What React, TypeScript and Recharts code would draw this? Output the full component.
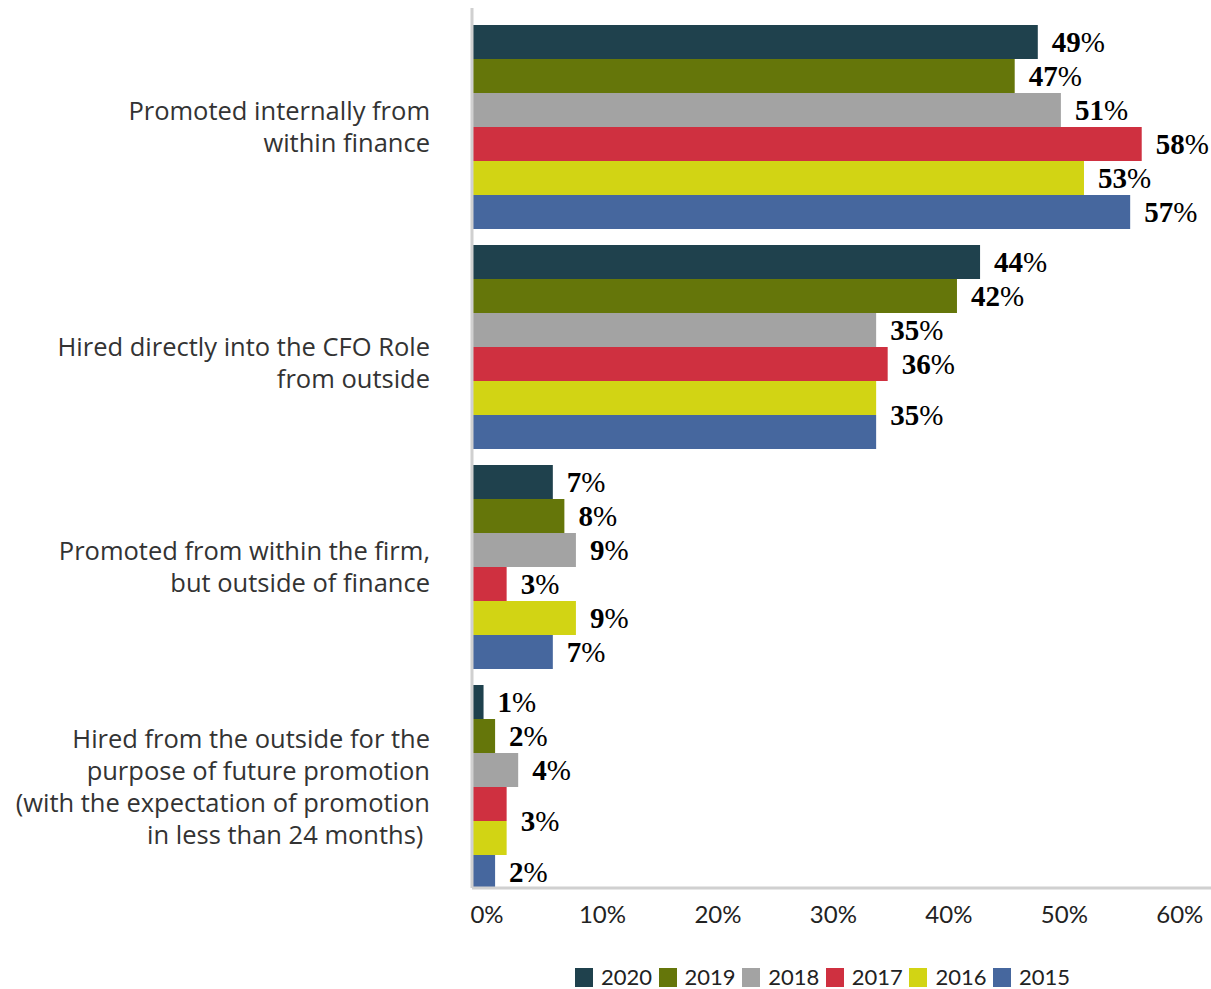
import React from 'react';
import { BarChart, Bar, XAxis, YAxis, Legend, LabelList } from 'recharts';

const categories = [
  'Promoted internally from within finance',
  'Hired directly into the CFO Role from outside',
  'Promoted from within the firm, but outside of finance',
  'Hired from the outside for the purpose of future promotion (with the expectation of promotion in less than 24 months)',
];
const categoryLines = [
  ['Promoted internally from', 'within finance'],
  ['', 'Hired directly into the CFO Role', 'from outside'],
  ['Promoted from within the firm,', 'but outside of finance'],
  ['Hired from the outside for the', 'purpose of future promotion', '(with the expectation of promotion', 'in less than 24 months)\u00a0'],
];
const seriesNames = ['2020', '2019', '2018', '2017', '2016', '2015'];
const v2020 = [49, 44, 7, 1];
const v2019 = [47, 42, 8, 2];
const v2018 = [51, 35, 9, 4];
const v2017 = [58, 36, 3, 3];
const v2016 = [53, 35, 9, 3];
const v2015 = [57, 35, 7, 2];
const seriesValues = [v2020, v2019, v2018, v2017, v2016, v2015];
const colors = ['#1f414d', '#65760a', '#a3a3a3', '#cf3040', '#d2d414', '#46679e'];
const xTicks = [0, 10, 20, 30, 40, 50, 60];

const data = categories.map((c, i) => {
  const row: any = { category: c, idx: i };
  seriesNames.forEach((s, si) => { row[s] = seriesValues[si][i]; });
  return row;
});

const CatTick = (props: any) => {
  const { x, y, payload } = props;
  const idx = categories.indexOf(payload.value);
  const lines = categoryLines[idx] || [];
  const lh = 32;
  const n = lines.length;
  return (
    <text x={x} y={y} textAnchor="end" fill="#333" fontFamily="Open Sans" fontSize={25.5}>
      {lines.map((l, i) => (
        <tspan key={i} x={x} y={y + (i - (n - 1) / 2) * lh + 9}>{l}</tspan>
      ))}
    </text>
  );
};

const XTick = (props: any) => {
  const { x, y, payload } = props;
  return (
    <text x={x + 15} y={y + 35} textAnchor="middle" fill="#222" fontFamily="Lato" fontSize={24}>
      {payload.value}%
    </text>
  );
};

const makeLabel = (si: number) => (props: any) => {
  const { x, y, width, height, value, index } = props;
  const prev = si > 0 ? seriesValues[si - 1][index] : null;
  const next = si < seriesValues.length - 1 ? seriesValues[si + 1][index] : null;
  if (prev === value) return null;
  const cy = next === value ? y + height : y + height / 2;
  return (
    <text x={x + width + 14} y={cy + 10} fill="#000" fontFamily="Liberation Serif" fontSize={29}>
      <tspan fontWeight={900}>{value}</tspan>
      <tspan fontWeight={400}>%</tspan>
    </text>
  );
};

const renderLegend = () => (
  <div style={{ display: 'flex', alignItems: 'center', height: 20, fontFamily: 'Lato', fontSize: 22, lineHeight: '20px', color: '#222' }}>
    {seriesNames.map((s, i) => (
      <div key={s} style={{ display: 'flex', alignItems: 'center', width: 83.6, flexShrink: 0 }}>
        <div style={{ width: 18, height: 19, background: colors[i], marginRight: 8, flexShrink: 0 }} />
        <span style={{ whiteSpace: 'nowrap' }}>{s}</span>
      </div>
    ))}
  </div>
);

export default function App() {
  return (
    <div style={{ position: 'absolute', left: 0, top: 0, width: 1211, height: 989, background: '#fff' }}>
      <BarChart
        width={1211}
        height={989}
        data={data}
        layout="vertical"
        margin={{ top: 8, right: 0, bottom: 0, left: 0 }}
        barCategoryGap={8.5}
        barGap={0}
      >
        <XAxis
          type="number"
          domain={[0, 64]}
          ticks={xTicks}
          allowDataOverflow
          height={50}
          tickLine={false}
          tickSize={0}
          tickMargin={0}
          axisLine={{ stroke: '#d0d0d0', strokeWidth: 3 }}
          tick={<XTick />}
        />
        <YAxis
          type="category"
          dataKey="category"
          width={472}
          tickLine={false}
          tickSize={0}
          tickMargin={42}
          padding={{ top: 8.5, bottom: -8.5 }}
          axisLine={{ stroke: '#d0d0d0', strokeWidth: 3 }}
          tick={<CatTick />}
          interval={0}
        />
        <Legend
          verticalAlign="bottom"
          content={renderLegend}
          wrapperStyle={{ left: 575, top: 967, bottom: 'auto', width: 600, height: 51 }}
        />
        {seriesNames.map((s, si) => (
          <Bar key={s} dataKey={s} fill={colors[si]} isAnimationActive={false}>
            <LabelList dataKey={s} content={makeLabel(si)} />
          </Bar>
        ))}
      </BarChart>
    </div>
  );
}
